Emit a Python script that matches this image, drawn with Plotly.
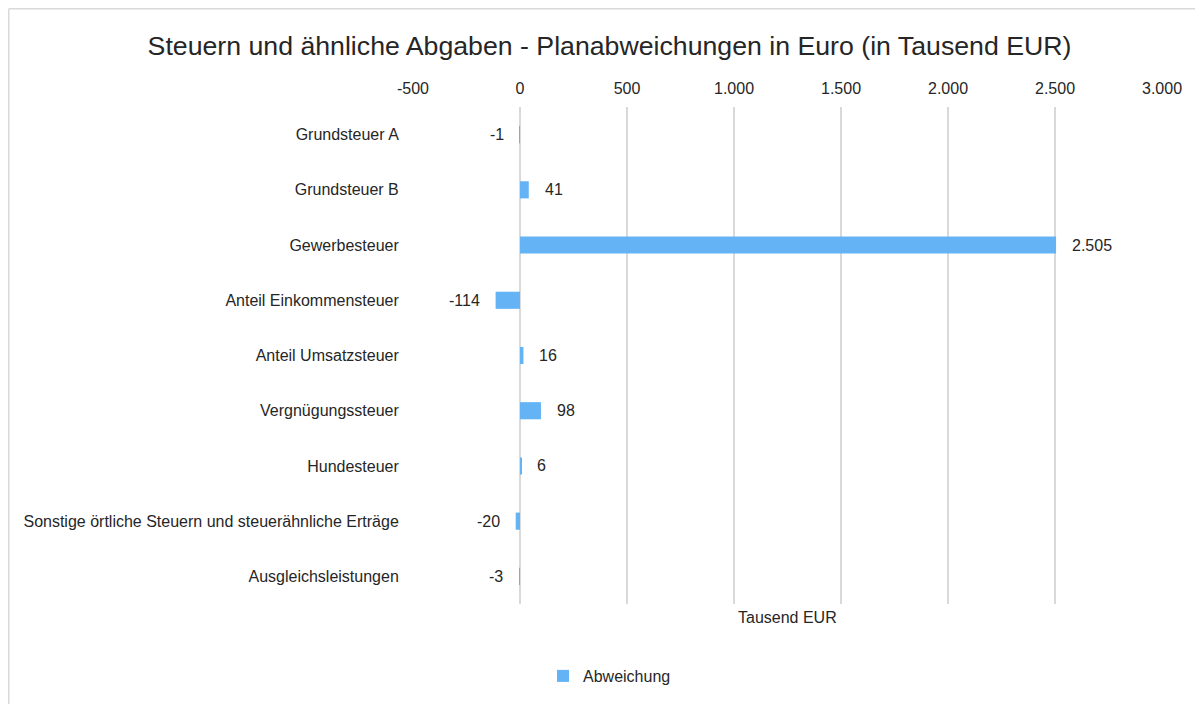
import plotly.graph_objects as go

categories = [
    "Grundsteuer A",
    "Grundsteuer B",
    "Gewerbesteuer",
    "Anteil Einkommensteuer",
    "Anteil Umsatzsteuer",
    "Vergnügungssteuer",
    "Hundesteuer",
    "Sonstige örtliche Steuern und steuerähnliche Erträge",
    "Ausgleichsleistungen",
]
values = [-1, 41, 2505, -114, 16, 98, 6, -20, -3]
tick_vals = [-500, 0, 500, 1000, 1500, 2000, 2500, 3000]
tick_text = ["-500", "0", "500", "1.000", "1.500", "2.000", "2.500", "3.000"]
label_text = ["-1", "41", "2.505", "-114", "16", "98", "6", "-20", "-3"]

BAR = "#63B3F5"
GRID = "#D9D9D9"
TXT = "#262626"
FONT = "Liberation Sans, Arial, sans-serif"

# page is offset by the default 8px body margin
OFF = 8
W, H = 1203, 704
L, T = 413 - OFF, 107 - OFF
R = W - (1162 - OFF)
B = H - (604 - OFF)
pw, ph = W - L - R, H - T - B

fig = go.Figure()
fig.add_trace(go.Bar(
    y=categories, x=values, orientation="h", name="Abweichung",
    marker=dict(color=BAR, line=dict(width=0)), width=0.31,
))

for c, v, t in zip(categories, values, label_text):
    fig.add_annotation(
        x=v, y=c, text=t, showarrow=False,
        xanchor="left" if v >= 0 else "right",
        xshift=14 if v >= 0 else -14,
        font=dict(size=16, color=TXT, family=FONT),
    )

fig.add_annotation(
    x=0.5, y=(-13) / ph, xref="paper", yref="paper", text="Tausend EUR",
    showarrow=False, yanchor="middle", font=dict(size=16, color=TXT, family=FONT),
)

def px_x(p):
    return (p - L) / pw

def px_y(p):
    return (H - B - p) / ph

fig.add_shape(type="line", xref="paper", yref="paper",
              x0=px_x(0.75), x1=px_x(W + 5), y0=px_y(0.75), y1=px_y(0.75),
              line=dict(color=GRID, width=1.5))
fig.add_shape(type="line", xref="paper", yref="paper",
              x0=px_x(0.75), x1=px_x(0.75), y0=px_y(0.75), y1=px_y(H + 5),
              line=dict(color=GRID, width=1.5))

fig.update_layout(
    width=W, height=H,
    margin=dict(l=L, r=R, t=T, b=B),
    paper_bgcolor="white", plot_bgcolor="white",
    font=dict(family=FONT, size=16, color=TXT),
    title=dict(
        text="Steuern und ähnliche Abgaben - Planabweichungen in Euro (in Tausend EUR)",
        x=(609.5 - OFF) / W, xref="container", xanchor="center",
        y=1 - (46 - OFF) / H, yref="container", yanchor="middle",
        font=dict(size=26.7, color=TXT, family=FONT),
    ),
    xaxis=dict(
        side="top", range=[-500, 3000], tickvals=tick_vals, ticktext=tick_text,
        showgrid=True, gridcolor=GRID, gridwidth=1.5,
        zeroline=True, zerolinecolor=GRID, zerolinewidth=1.5,
        ticks="outside", ticklen=6, tickcolor="rgba(0,0,0,0)",
        tickfont=dict(size=16, color=TXT), showline=False,
    ),
    yaxis=dict(
        categoryorder="array", categoryarray=categories, autorange="reversed",
        ticks="outside", ticklen=10, tickcolor="rgba(0,0,0,0)",
        tickfont=dict(size=16, color=TXT), showgrid=False, zeroline=False,
    ),
    showlegend=True,
    legend=dict(
        orientation="h", xref="container", yref="container",
        x=0.5, xanchor="center", y=1 - (676 - OFF) / H, yanchor="middle",
        font=dict(size=16, color=TXT), itemwidth=30,
    ),
)

fig.write_html("out.html")
